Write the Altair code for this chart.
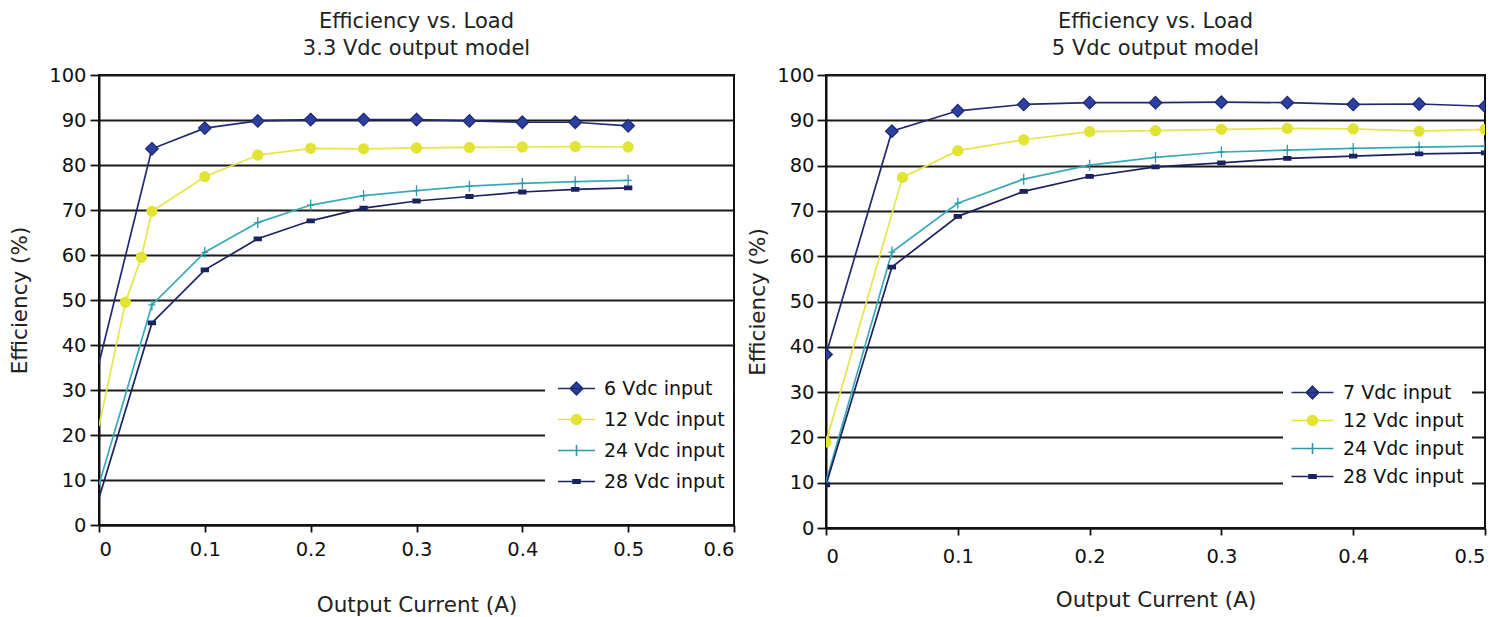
import altair as alt
import pandas as pd

FONT = "DejaVu Sans"

# ---------------- data: 3.3 Vdc output model ----------------
left_series = ["6 Vdc input", "12 Vdc input", "24 Vdc input", "28 Vdc input"]
left_x_6 = [0, 0.05, 0.1, 0.15, 0.2, 0.25, 0.3, 0.35, 0.4, 0.45, 0.5]
left_y_6 = [36, 83.6, 88.2, 89.8, 90.1, 90.1, 90.1, 89.8, 89.5, 89.5, 88.7]
left_x_12 = [0, 0.025, 0.04, 0.05, 0.1, 0.15, 0.2, 0.25, 0.3, 0.35, 0.4, 0.45, 0.5]
left_y_12 = [22, 49.5, 59.5, 69.7, 77.4, 82.2, 83.7, 83.6, 83.8, 83.9, 84.0, 84.1, 84.0]
left_x_24 = [0, 0.05, 0.1, 0.15, 0.2, 0.25, 0.3, 0.35, 0.4, 0.45, 0.5]
left_y_24 = [9, 48.9, 60.6, 67.2, 71.1, 73.2, 74.3, 75.3, 75.9, 76.3, 76.6]
left_x_28 = [0, 0.05, 0.1, 0.15, 0.2, 0.25, 0.3, 0.35, 0.4, 0.45, 0.5]
left_y_28 = [6, 44.9, 56.7, 63.6, 67.6, 70.4, 72.0, 73.0, 74.0, 74.6, 74.9]

# ---------------- data: 5 Vdc output model ----------------
right_series = ["7 Vdc input", "12 Vdc input", "24 Vdc input", "28 Vdc input"]
right_x_7 = [0, 0.05, 0.1, 0.15, 0.2, 0.25, 0.3, 0.35, 0.4, 0.45, 0.5]
right_y_7 = [38.3, 87.6, 92.1, 93.5, 93.9, 93.9, 94.0, 93.9, 93.5, 93.6, 93.1]
right_x_12 = [0, 0.058, 0.1, 0.15, 0.2, 0.25, 0.3, 0.35, 0.4, 0.45, 0.5]
right_y_12 = [19, 77.4, 83.3, 85.7, 87.5, 87.7, 88.0, 88.2, 88.1, 87.6, 88.0]
right_x_24 = [0, 0.05, 0.1, 0.15, 0.2, 0.25, 0.3, 0.35, 0.4, 0.45, 0.5]
right_y_24 = [10.2, 60.9, 71.7, 77.0, 80.1, 81.8, 83.0, 83.4, 83.8, 84.1, 84.3]
right_x_28 = [0, 0.05, 0.1, 0.15, 0.2, 0.25, 0.3, 0.35, 0.4, 0.45, 0.5]
right_y_28 = [9.5, 57.6, 68.8, 74.3, 77.6, 79.7, 80.6, 81.6, 82.1, 82.6, 82.8]

y_ticks = [0, 10, 20, 30, 40, 50, 60, 70, 80, 90, 100]
left_x_ticks = [0, 0.1, 0.2, 0.3, 0.4, 0.5, 0.6]
right_x_ticks = [0, 0.1, 0.2, 0.3, 0.4, 0.5]

# ---------------- styles ----------------
line_colors = ["#1f2b6e", "#e6e64a", "#3aaabb", "#1a2360"]
fill_colors = ["#2b40a2", "#e3e336", "transparent", "#1a2360"]
stroke_colors = ["#1f2b6e", "#e3e336", "#2e98a8", "#1a2360"]

marker_paths = [
    "M0,-1.25L1.25,0L0,1.25L-1.25,0Z",
    "M-1,0A1,1,0,1,0,1,0A1,1,0,1,0,-1,0Z",
    "M0,-1.1V1.1M-0.7,0H0.7",
    "M-0.7,-0.35H0.7V0.35H-0.7Z",
]


def legend_paths(half):
    seg = f"M-{half},0H{half}"
    return [seg + p for p in marker_paths]


def build_df(series, xs, ys, skip_first):
    rows = []
    for s, xv, yv in zip(series, xs, ys):
        for i, (a, b) in enumerate(zip(xv, yv)):
            mk = not (skip_first and i == 0)
            rows.append({"x": a, "y": b, "series": s, "marker": mk})
    return pd.DataFrame(rows)


def panel(df, series, title2, xmax, xticks, width, height, y_lab_pad, y_title_pad,
          x_lab_pad, x_title_pad, lg_x, lg_y, lg_row_pad, lg_half, lg_sym_off, lg_lab_off):
    xenc = alt.X(
        "x:Q",
        scale=alt.Scale(domain=[0, xmax], nice=False, zero=True),
        axis=alt.Axis(
            title="Output Current (A)", values=xticks, format="~g", grid=False,
            tickSize=7, labelPadding=x_lab_pad, titlePadding=x_title_pad,
        ),
    )
    yenc = alt.Y(
        "y:Q",
        scale=alt.Scale(domain=[0, 100], nice=False),
        axis=alt.Axis(
            title="Efficiency (%)", values=y_ticks, grid=True,
            tickSize=9, labelPadding=y_lab_pad, titlePadding=y_title_pad,
        ),
    )
    base = alt.Chart(df)
    lines = base.mark_line(strokeWidth=1.7, clip=True).encode(
        x=xenc, y=yenc,
        color=alt.Color("series:N", scale=alt.Scale(domain=series, range=line_colors), legend=None),
    )
    pts = base.transform_filter("datum.marker").mark_point(
        size=100, strokeWidth=1.3, opacity=1, clip=True
    ).encode(
        x=xenc, y=yenc,
        shape=alt.Shape("series:N", scale=alt.Scale(domain=series, range=marker_paths), legend=None),
        fill=alt.Fill("series:N", scale=alt.Scale(domain=series, range=fill_colors), legend=None),
        stroke=alt.Stroke("series:N", scale=alt.Scale(domain=series, range=stroke_colors), legend=None),
    )
    lg = alt.Legend(
        title=None, orient="none", legendX=lg_x, legendY=lg_y,
        fillColor="white", padding=8, rowPadding=lg_row_pad,
        symbolSize=100, symbolStrokeWidth=1.6, symbolOffset=lg_sym_off,
        labelOffset=lg_lab_off, labelFont=FONT, labelFontSize=19, labelColor="#111",
        labelLimit=300,
    )
    leg = base.transform_filter("false").mark_point(size=100, strokeWidth=1.6, opacity=1).encode(
        x=xenc, y=yenc,
        shape=alt.Shape("series:N", scale=alt.Scale(domain=series, range=legend_paths(lg_half)), legend=lg),
        fill=alt.Fill("series:N", scale=alt.Scale(domain=series, range=fill_colors), legend=lg),
        stroke=alt.Stroke("series:N", scale=alt.Scale(domain=series, range=stroke_colors), legend=lg),
    )
    return (
        alt.layer(lines, pts, leg)
        .resolve_scale(shape="independent", fill="independent", stroke="independent")
        .properties(
            width=width, height=height,
            title=alt.TitleParams(
                text=["Efficiency vs. Load", title2], fontSize=21, font=FONT,
                fontWeight="normal", color="#222", anchor="middle", lineHeight=27, offset=6,
            ),
        )
    )


left_df = build_df(left_series, [left_x_6, left_x_12, left_x_24, left_x_28],
                   [left_y_6, left_y_12, left_y_24, left_y_28], skip_first=True)
right_df = build_df(right_series, [right_x_7, right_x_12, right_x_24, right_x_28],
                    [right_y_7, right_y_12, right_y_24, right_y_28], skip_first=False)

left = panel(left_df, left_series, "3.3 Vdc output model", 0.6, left_x_ticks, 635, 450,
             4, 17, 8, 36, 446, 296, 11, 3.7, 14, 18)
right = panel(right_df, right_series, "5 Vdc output model", 0.5, right_x_ticks, 659, 453,
              3, 7, 12, 24, 457, 300, 8, 4.2, 12, 21)

chart = (
    alt.hconcat(left, right, spacing=92, bounds="flush")
    .properties(padding={"left": 0, "top": 2, "right": 0, "bottom": 0})
    .configure_view(stroke="#111", strokeWidth=2)
    .configure_axis(
        labelFont=FONT, titleFont=FONT, labelFontSize=19.5, titleFontSize=21.5,
        titleFontWeight="normal", labelColor="#111", titleColor="#222",
        domainColor="#111", domainWidth=2, tickColor="#111", tickWidth=1.8,
        gridColor="#1a1a1a", gridWidth=1.8, gridOpacity=1,
    )
    .configure_concat(spacing=92)
)

chart.save("out.html", embed_options={"renderer": "svg", "actions": False})
